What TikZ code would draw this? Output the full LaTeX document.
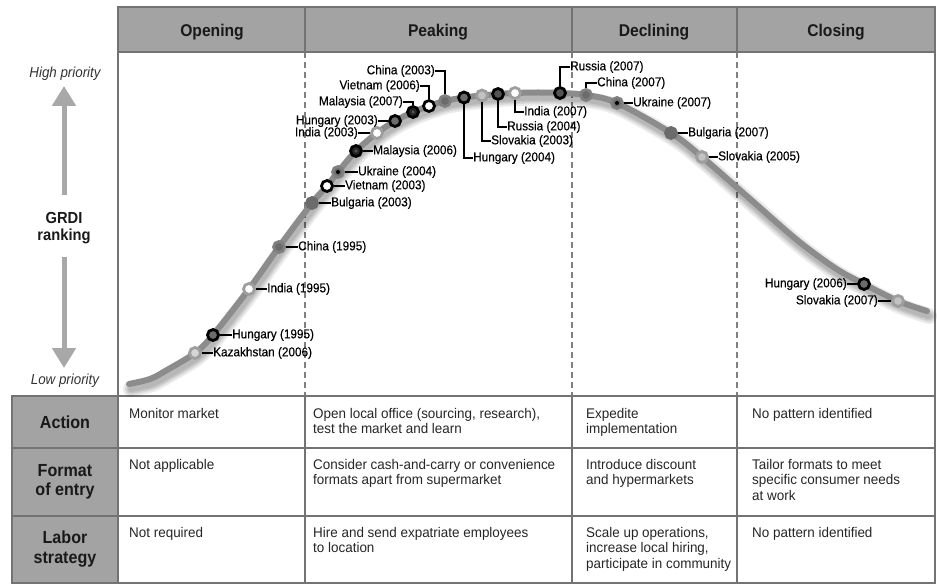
\documentclass[tikz,border=0pt]{standalone}
\usepackage{fontspec}
\setmainfont{Liberation Sans}
\newfontfamily\cf{Liberation Sans}[FakeStretch=0.92]
\newfontfamily\lf{Liberation Sans}[FakeStretch=0.92, FakeBold=0.3]
\newfontfamily\tf{Liberation Sans}[FakeStretch=0.96]
\usetikzlibrary{arrows.meta}

\definecolor{bandgray}{gray}{0.64}
\definecolor{rulegray}{gray}{0.45}
\definecolor{curvegray}{gray}{0.55}
\definecolor{arrowgray}{gray}{0.66}
\definecolor{dashgray}{gray}{0.5}
\definecolor{gA}{gray}{0.15}
\definecolor{gB}{gray}{0.33}
\definecolor{gC}{gray}{0.42}
\definecolor{gD}{gray}{0.5}
\definecolor{gE}{gray}{0.62}
\definecolor{gF}{gray}{0.76}
\definecolor{gG}{gray}{0.84}

\tikzset{
  lbl/.style={font=\lf\fontsize{12.8}{14}\selectfont, inner sep=0pt, text=black},
  lead/.style={draw=black, line width=1.8pt},
  mk/.style={circle, inner sep=0pt, minimum size=11pt, line width=2.8pt},
  mkHU/.style={mk, draw=black, fill=gC},
  mkRU/.style={mk, draw=black, fill=gB},
  mkIN/.style={mk, draw=gE, fill=white},
  mkCN/.style={mk, draw=gD, fill=gC},
  mkBG/.style={mk, draw=gC, fill=gC},
  mkVN/.style={mk, draw=black, fill=white},
  mkSK/.style={mk, draw=gE, fill=gF},
  mkKZ/.style={mk, draw=gE, fill=gG},
  mkUA/.style={mk, draw=gD, fill=gC,
    path picture={\fill[black] (path picture bounding box.center) circle (2pt);}},
  mkMY/.style={mk, draw=black, fill=gA,
    path picture={\fill[gB] (path picture bounding box.center) circle (1.6pt);}},
  hdr/.style={font=\cf\bfseries\fontsize{17}{19}\selectfont, text=black!90, anchor=base, inner sep=0pt},
  rowlbl/.style={font=\cf\bfseries\fontsize{17.5}{19.5}\selectfont, text=black!90, align=center, inner sep=0pt},
  tbl/.style={font=\tf\fontsize{14}{15.5}\selectfont, align=left, anchor=north west, inner sep=0pt, text=black!85},
  prio/.style={font=\cf\itshape\fontsize{14.5}{16}\selectfont, text=black!80, anchor=base, inner sep=0pt},
  rankarrow/.style={draw=arrowgray, line width=5pt, -{Triangle[width=23pt,length=20pt]}},
  grid/.style={draw=rulegray, line width=2pt},
  phase/.style={draw=dashgray, line width=1.8pt, dash pattern=on 6pt off 4pt},
  shadowline/.style={draw=black, opacity=0.08, line cap=round, line join=round},
  curve/.style={draw=curvegray, line width=6pt, line cap=round, line join=round}
}

\begin{document}
\begin{tikzpicture}[x=1pt, y=-1pt]
\useasboundingbox (0,0) rectangle (937,585);
\fill[white] (0,0) rectangle (937,585);

% header band and label column
\fill[bandgray] (118,7) rectangle (935,52);
\fill[bandgray] (12,396) rectangle (118,583);

% phase separators inside the chart area
\draw[phase] (305,52) -- (305,396);
\draw[phase] (572,52) -- (572,396);
\draw[phase] (737,52) -- (737,396);

% table rules
\draw[grid] (118,7) rectangle (935,52);
\draw[grid] (305,7) -- (305,52);
\draw[grid] (572,7) -- (572,52);
\draw[grid] (737,7) -- (737,52);
\draw[grid] (118,52) -- (118,396);
\draw[grid] (935,52) -- (935,396);
\draw[grid] (12,396) rectangle (935,583);
\draw[grid] (12,448) -- (935,448);
\draw[grid] (12,516) -- (935,516);
\foreach \cx in {118,305,572,737} \draw[grid] (\cx,396) -- (\cx,583);

% phase headings
\node[hdr] (hOpen) at (212,37) {Opening};
\node[hdr] (hPeak) at (438,37) {Peaking};
\node[hdr] (hDecl) at (654,37) {Declining};
\node[hdr] (hClos) at (836,37) {Closing};

% ranking axis
\node[prio] (high) at (65,78) {High priority};
\node[prio] (low) at (65,384) {Low priority};
\node[rowlbl, font=\cf\bfseries\fontsize{16}{17}\selectfont] (grdi) at (64,228) {GRDI\\ranking};
\coordinate (upTail) at (64,195);
\coordinate (upTip) at (64,86);
\coordinate (dnTail) at (64,257);
\coordinate (dnTip) at (64,368);
\draw[rankarrow] (upTail) -- (upTip);
\draw[rankarrow] (dnTail) -- (dnTip);

% life-cycle curve with soft shadow
\foreach \w in {16,12,9,6}
  \draw[shadowline, line width=\w pt, shift={(2,5)}] plot[smooth, tension=0.55] coordinates {
    (129,384) (150,379) (167,370) (195,353) (213,335) (249,289) (279,247) (312,203)
    (327,186) (338,172) (356,151) (377,133) (395,121) (413,112) (429,106) (445,101)
    (464,97.5) (482,95.5) (498,94) (515,93) (538,92.5) (560,93) (586,95) (617,103)
    (671,133) (702,157) (750,199) (797,240) (835,268) (864,284) (898,301) (927,311)};
\draw[curve] plot[smooth, tension=0.55] coordinates {
    (129,384) (150,379) (167,370) (195,353) (213,335) (249,289) (279,247) (312,203)
    (327,186) (338,172) (356,151) (377,133) (395,121) (413,112) (429,106) (445,101)
    (464,97.5) (482,95.5) (498,94) (515,93) (538,92.5) (560,93) (586,95) (617,103)
    (671,133) (702,157) (750,199) (797,240) (835,268) (864,284) (898,301) (927,311)};

% country markers
\node[mkKZ] (kz06) at (195,353) {};
\node[mkHU] (hu95) at (213,335) {};
\node[mkIN] (in95) at (249,289) {};
\node[mkCN] (cn95) at (279,247) {};
\node[mkBG] (bg03) at (312,203) {};
\node[mkVN] (vn03) at (327,186) {};
\node[mkUA] (ua04) at (338,172) {};
\node[mkMY] (my06) at (356,151) {};
\node[mkIN] (in03) at (377,133) {};
\node[mkHU] (hu03) at (395,121) {};
\node[mkMY] (my07) at (413,112) {};
\node[mkVN] (vn06) at (429,106) {};
\node[mkCN] (cn03) at (445,101) {};
\node[mkHU] (hu04) at (464,97.5) {};
\node[mkSK] (sk03) at (482,95.5) {};
\node[mkRU] (ru04) at (498,94) {};
\node[mkIN] (in07) at (515,93) {};
\node[mkRU] (ru07) at (560,93) {};
\node[mkCN] (cn07) at (586,95) {};
\node[mkUA] (ua07) at (617,103) {};
\node[mkBG] (bg07) at (671,133) {};
\node[mkSK] (sk05) at (702,157) {};
\node[mkHU] (hu06) at (864,284) {};
\node[mkSK] (sk07) at (898,301) {};

% country labels
\node[lbl, anchor=west] (kz06t) at (213,353) {Kazakhstan (2006)};
\node[lbl, anchor=west] (hu95t) at (232,335) {Hungary (1995)};
\node[lbl, anchor=west] (in95t) at (267,289) {India (1995)};
\node[lbl, anchor=west] (cn95t) at (298,247) {China (1995)};
\node[lbl, anchor=west] (bg03t) at (331,203) {Bulgaria (2003)};
\node[lbl, anchor=west] (vn03t) at (345,186) {Vietnam (2003)};
\node[lbl, anchor=west] (ua04t) at (358,172) {Ukraine (2004)};
\node[lbl, anchor=west] (my06t) at (373,151) {Malaysia (2006)};
\node[lbl, anchor=east] (in03t) at (358,133) {India (2003)};
\node[lbl, anchor=east] (hu03t) at (378,121) {Hungary (2003)};
\node[lbl, anchor=east] (my07t) at (403,102) {Malaysia (2007)};
\node[lbl, anchor=east] (vn06t) at (420,86) {Vietnam (2006)};
\node[lbl, anchor=east] (cn03t) at (435,71) {China (2003)};
\node[lbl, anchor=west] (hu04t) at (473,158) {Hungary (2004)};
\node[lbl, anchor=west] (sk03t) at (491,141) {Slovakia (2003)};
\node[lbl, anchor=west] (ru04t) at (507,127) {Russia (2004)};
\node[lbl, anchor=west] (in07t) at (524,112) {India (2007)};
\node[lbl, anchor=west] (ru07t) at (570,67) {Russia (2007)};
\node[lbl, anchor=west] (cn07t) at (597,83) {China (2007)};
\node[lbl, anchor=west] (ua07t) at (633,103) {Ukraine (2007)};
\node[lbl, anchor=west] (bg07t) at (688,133) {Bulgaria (2007)};
\node[lbl, anchor=west] (sk05t) at (718,157) {Slovakia (2005)};
\node[lbl, anchor=east] (hu06t) at (847,284) {Hungary (2006)};
\node[lbl, anchor=east] (sk07t) at (878,301) {Slovakia (2007)};

% leader lines
\foreach \m in {kz06,hu95,in95,cn95,bg03,vn03,ua04,my06,ua07,bg07,sk05}
  \draw[lead] (\m.east) -- (\m t.west);
\foreach \m in {in03,hu03,hu06,sk07}
  \draw[lead] (\m t.east) -- (\m.west);
\foreach \m in {my07,vn06,cn03}
  \draw[lead] (\m t.east) -| (\m.north);
\foreach \m in {hu04,sk03,ru04,in07}
  \draw[lead] (\m.south) |- (\m t.west);
\foreach \m in {ru07,cn07}
  \draw[lead] (\m.north) |- (\m t.west);

% row headings
\node[rowlbl] (rAct) at (65,422) {Action};
\node[rowlbl] (rFmt) at (65,482) {Format\\of entry};
\node[rowlbl] (rLab) at (65,549) {Labor\\strategy};

% table cells
\node[tbl] (a1) at (129,408) {Monitor market};
\node[tbl] (a2) at (313,408) {Open local office (sourcing, research),\\test the market and learn};
\node[tbl] (a3) at (586,408) {Expedite\\implementation};
\node[tbl] (a4) at (752,408) {No pattern identified};
\node[tbl] (f1) at (129,459) {Not applicable};
\node[tbl] (f2) at (313,459) {Consider cash-and-carry or convenience\\formats apart from supermarket};
\node[tbl] (f3) at (586,459) {Introduce discount\\and hypermarkets};
\node[tbl] (f4) at (752,459) {Tailor formats to meet\\specific consumer needs\\at work};
\node[tbl] (l1) at (129,527) {Not required};
\node[tbl] (l2) at (313,527) {Hire and send expatriate employees\\to location};
\node[tbl] (l3) at (586,527) {Scale up operations,\\increase local hiring,\\participate in community};
\node[tbl] (l4) at (752,527) {No pattern identified};
\end{tikzpicture}
\end{document}
